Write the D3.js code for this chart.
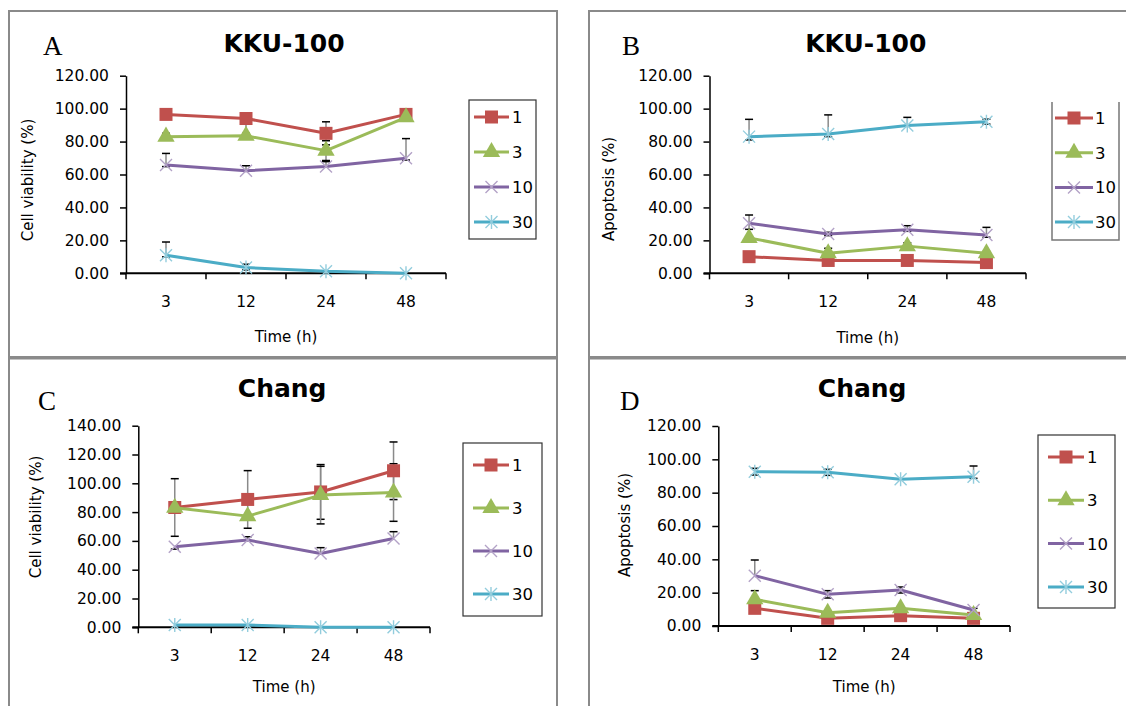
<!DOCTYPE html>
<html>
<head>
<meta charset="utf-8">
<script src="https://cdn.jsdelivr.net/npm/d3@7"></script>
<style>
body { margin: 0; background: #fff; }
svg { display: block; }
text { font-family: "DejaVu Sans", sans-serif; fill: #000; }
</style>
</head>
<body>
<div id="chart"></div>
<script>
// ---- data ----
const hours = ["3", "12", "24", "48"];
const doses = ["1", "3", "10", "30"];

const ticks120 = [0, 20, 40, 60, 80, 100, 120];
const ticks140 = [0, 20, 40, 60, 80, 100, 120, 140];

// A: KKU-100 cell viability
const kkuViability = [[96.5, 94, 85, 96.5], [83, 83.5, 74.5, 94.7], [65.8, 62.3, 64.8, 69.8], [11, 3.5, 1.2, 0]];
const kkuViabilityUp = [[0, 0, 7, 0], [2, 0, 6, 0], [7, 3, 3, 12], [8, 2, 0, 0]];
const kkuViabilityDown = [[0, 9, 7, 0], [0, 0, 6, 0], [1, 0, 0, 1], [1, 1.5, 0, 0]];

// B: KKU-100 apoptosis
const kkuApoptosis = [[10.1, 7.8, 7.8, 6.5], [21.5, 12.2, 16.5, 12.2], [30.4, 23.9, 26.5, 23.3], [83, 84.6, 89.7, 92.1]];
const kkuApoptosisUp = [[0, 0, 0, 0], [0, 3, 2, 1], [5, 1, 2.4, 4.6], [10.5, 11.6, 5, 1.5]];
const kkuApoptosisDown = [[0, 0, 0, 0], [0, 0, 0, 0], [3.7, 1, 1, 1.4], [2, 1.6, 0, 1.5]];

// C: Chang cell viability
const changViability = [[83.2, 88.8, 94, 108.7], [83, 77.2, 91.8, 93.6], [56, 60.6, 51.3, 61.7], [1.6, 1.6, 0, 0]];
const changViabilityUp = [[20, 20, 19, 20], [0, 0, 20, 20], [0, 2.3, 4, 4.7], [0, 0, 0, 0]];
const changViabilityDown = [[20, 20, 19, 20], [0, 0, 20, 20], [1.7, 0, 0, 0], [0, 0, 0, 0]];

// D: Chang apoptosis
const changApoptosis = [[10.6, 4.6, 6.2, 4.6], [16, 8, 10.6, 6.6], [30.2, 19, 21.6, 9.6], [92.6, 92.2, 88, 89.6]];
const changApoptosisUp = [[0, 0, 0, 0], [5.2, 0, 0, 0], [9.4, 2.2, 1.8, 1], [2, 1.8, 0, 6.4]];
const changApoptosisDown = [[0, 0, 0, 0], [0, 0, 0, 0], [0, 2.2, 1.8, 0], [2, 1.8, 0, 1]];

// ---- styles ----
const lineColors = ["#C0504D", "#9BBB59", "#8064A2", "#4BACC6"];
const markColors = ["#C0504D", "#9BBB59", "#B3A2C7", "#93CDDD"];
const markTypes = ["square", "triangle", "x", "asterisk"];

const panels = [
  { letter: "A", title: "KKU-100", ylab: "Cell viability (%)", values: kkuViability, up: kkuViabilityUp, down: kkuViabilityDown, ticks: ticks120,
    frame: [9, 11, 548, 346], letterPos: [43, 55], titleY: 52,
    plot: { x0: 126, x1: 446, y0: 273.3, y1: 75.7 }, ylabX: 28, ylabY: 180, xlabY: 342,
    legend: { x0: 469, x1: 536, y0: 100, y1: 239, row0: 117, step: 35, lx0: 474, lx1: 509, tx: 512, top: true } },
  { letter: "B", title: "KKU-100", ylab: "Apoptosis (%)", values: kkuApoptosis, up: kkuApoptosisUp, down: kkuApoptosisDown, ticks: ticks120,
    frame: [589, 11, 545, 346], letterPos: [622, 55], titleY: 52,
    plot: { x0: 709.5, x1: 1026, y0: 273.3, y1: 75.7 }, ylabX: 609, ylabY: 189, xlabY: 343,
    legend: { x0: 1052, x1: 1119, y0: 102, y1: 240, row0: 118, step: 34.7, lx0: 1055, lx1: 1093, tx: 1095, top: false } },
  { letter: "C", title: "Chang", ylab: "Cell viability (%)", values: changViability, up: changViabilityUp, down: changViabilityDown, ticks: ticks140,
    frame: [9, 358.5, 548, 360], letterPos: [38, 410], titleY: 397,
    plot: { x0: 138.3, x1: 430, y0: 627.3, y1: 425.7 }, ylabX: 36, ylabY: 517, xlabY: 692,
    legend: { x0: 463, x1: 542, y0: 443, y1: 616, row0: 465, step: 43, lx0: 473, lx1: 509, tx: 512, top: true } },
  { letter: "D", title: "Chang", ylab: "Apoptosis (%)", values: changApoptosis, up: changApoptosisUp, down: changApoptosisDown, ticks: ticks120,
    frame: [589, 358.5, 545, 360], letterPos: [620, 410], titleY: 397,
    plot: { x0: 718.3, x1: 1010, y0: 626, y1: 426 }, ylabX: 625, ylabY: 525, xlabY: 692,
    legend: { x0: 1038, x1: 1115, y0: 435, y1: 608, row0: 457, step: 43.3, lx0: 1048, lx1: 1084, tx: 1087, top: true } }
];

const svg = d3.select("#chart").append("svg").attr("width", 1126).attr("height", 706);

function marker(g, type, color, cx, cy) {
  if (type === "square") {
    g.append("rect").attr("x", cx - 6.5).attr("y", cy - 6.5).attr("width", 13).attr("height", 13).attr("fill", color);
  } else if (type === "triangle") {
    g.append("path").attr("d", d3.symbol(d3.symbolTriangle, 130)()).attr("transform", `translate(${cx},${cy})`).attr("fill", color);
  } else {
    const r = 6;
    let d = `M${cx - r},${cy - r}L${cx + r},${cy + r}M${cx - r},${cy + r}L${cx + r},${cy - r}`;
    if (type === "asterisk") d += `M${cx},${cy - r - 1}L${cx},${cy + r + 1}`;
    g.append("path").attr("d", d).attr("stroke", color).attr("stroke-width", 1.4).attr("fill", "none");
  }
}

panels.forEach(function(p) {
  const g = svg.append("g");

  // panel frame
  g.append("rect").attr("x", p.frame[0]).attr("y", p.frame[1]).attr("width", p.frame[2]).attr("height", p.frame[3])
    .attr("fill", "none").attr("stroke", "#8a8a8a").attr("stroke-width", 2);

  const x = d3.scaleBand().domain(hours).range([p.plot.x0, p.plot.x1]);
  const y = d3.scaleLinear().domain([0, d3.max(p.ticks)]).range([p.plot.y0, p.plot.y1]);

  // letter + title
  g.append("text").attr("x", p.letterPos[0]).attr("y", p.letterPos[1]).text(p.letter)
    .style("font-family", "'Liberation Serif', serif").style("font-size", "27px");
  g.append("text").attr("x", (p.plot.x0 + p.plot.x1) / 2 - 2).attr("y", p.titleY).attr("text-anchor", "middle")
    .style("font-size", "25px").style("font-weight", "bold").text(p.title);

  // y axis
  const yAxis = d3.axisLeft(y).tickValues(p.ticks).tickFormat(d3.format(".2f")).tickSize(6).tickSizeOuter(0).tickPadding(11);
  const ya = g.append("g").attr("transform", `translate(${p.plot.x0},0)`).call(yAxis);
  ya.select(".domain").attr("stroke", "#000").attr("stroke-width", 1.5);
  ya.selectAll(".tick line").attr("stroke", "#000").attr("stroke-width", 1.5);
  ya.selectAll("text").style("font-size", "15.5px").style("font-family", "'DejaVu Sans', sans-serif");

  // x axis
  const xAxis = d3.axisBottom(x).tickSize(0).tickPadding(23);
  const xa = g.append("g").attr("transform", `translate(0,${p.plot.y0})`).call(xAxis);
  xa.select(".domain").remove();
  xa.selectAll("text").style("font-size", "15.5px").style("font-family", "'DejaVu Sans', sans-serif");
  g.append("line").attr("x1", p.plot.x0 - 6).attr("x2", p.plot.x1).attr("y1", y(0)).attr("y2", y(0))
    .attr("stroke", "#000").attr("stroke-width", 2);
  const bounds = hours.map(h => x(h)).concat([x.range()[1]]);
  g.selectAll(".xtick").data(bounds).enter().append("line")
    .attr("x1", d => d).attr("x2", d => d).attr("y1", y(0)).attr("y2", y(0) + 6)
    .attr("stroke", "#000").attr("stroke-width", 1.5);

  // axis titles
  g.append("text").attr("transform", `translate(${p.ylabX},${p.ylabY}) rotate(-90)`).attr("text-anchor", "middle")
    .attr("dy", "0.35em").style("font-size", "15px").text(p.ylab);
  g.append("text").attr("x", (p.plot.x0 + p.plot.x1) / 2).attr("y", p.xlabY).attr("text-anchor", "middle")
    .style("font-size", "15px").text("Time (h)");

  const cx = h => x(h) + x.bandwidth() / 2;

  // error bars (behind the series)
  p.values.forEach(function(vals, s) {
    vals.forEach(function(v, i) {
      const hi = v + p.up[s][i], lo = v - p.down[s][i];
      if (hi === lo) return;
      const xc = cx(hours[i]);
      g.append("line").attr("x1", xc).attr("x2", xc).attr("y1", y(hi)).attr("y2", y(lo))
        .attr("stroke", "#8a8a8a").attr("stroke-width", 1.5);
      [hi, lo].forEach(function(e) {
        if (e === v) return;
        g.append("line").attr("x1", xc - 4).attr("x2", xc + 4).attr("y1", y(e)).attr("y2", y(e))
          .attr("stroke", "#000").attr("stroke-width", 1.5);
      });
    });
  });

  // series lines + markers
  const line = d3.line().x((d, i) => cx(hours[i])).y(d => y(d));
  p.values.forEach(function(vals, s) {
    g.append("path").datum(vals).attr("d", line).attr("fill", "none")
      .attr("stroke", lineColors[s]).attr("stroke-width", 3).attr("stroke-linejoin", "round");
    vals.forEach(function(v, i) { marker(g, markTypes[s], markColors[s], cx(hours[i]), y(v)); });
  });

  // legend
  const L = p.legend;
  if (L.top) {
    g.append("rect").attr("x", L.x0).attr("y", L.y0).attr("width", L.x1 - L.x0).attr("height", L.y1 - L.y0)
      .attr("fill", "#fff").attr("stroke", "#333").attr("stroke-width", 1.2);
  } else {
    g.append("path").attr("d", `M${L.x0},${L.y0}V${L.y1}H${L.x1}V${L.y0}`)
      .attr("fill", "none").attr("stroke", "#777").attr("stroke-width", 1.5);
  }
  doses.forEach(function(d, s) {
    const ry = L.row0 + s * L.step;
    g.append("line").attr("x1", L.lx0).attr("x2", L.lx1).attr("y1", ry).attr("y2", ry)
      .attr("stroke", lineColors[s]).attr("stroke-width", 3);
    marker(g, markTypes[s], markColors[s], (L.lx0 + L.lx1) / 2, ry);
    g.append("text").attr("x", L.tx).attr("y", ry).attr("dy", "0.36em").style("font-size", "16.5px").text(d);
  });
});
</script>
</body>
</html>
